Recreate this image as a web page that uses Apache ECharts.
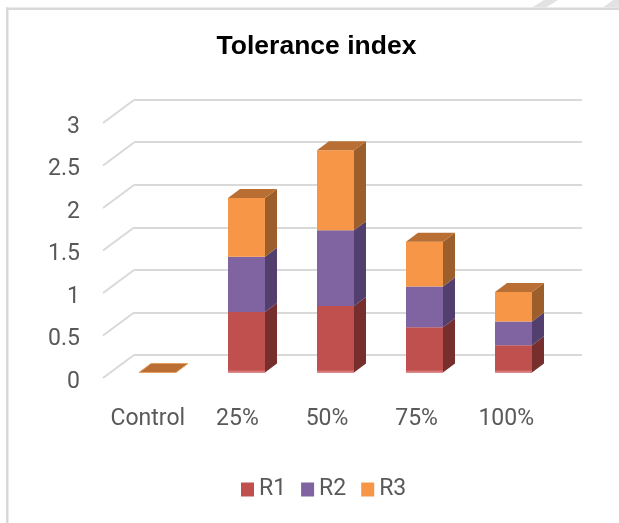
<!DOCTYPE html>
<html><head><meta charset="utf-8">
<style>html,body{margin:0;padding:0;background:#fff}#c{width:619px;height:523px}</style>
<script src="https://cdn.jsdelivr.net/npm/echarts@6/dist/echarts.min.js"></script>
</head><body><div id="c"></div>
<script>
const categories = ['Control','25%','50%','75%','100%'];
const tickLabels = [0,0.5,1,1.5,2,2.5,3];
const R1 = [0,0.71,0.78,0.53,0.32];
const R2 = [0,0.65,0.89,0.48,0.28];
const R3 = [0,0.69,0.94,0.525,0.345];
const names = ['R1','R2','R3'];
const seriesValues = [R1,R2,R3];
const colors = ['#c0504d','#8064a2','#f79646'];
const sideColors = ['#772f2d','#523f6e','#9c5f2b'];
const topColors = ['#8f3e3c','#65507f','#b96f33'];
const depthX = 12, depthY = 9, wallX = 31, wallY = 23, labelShift = 4;

function barItem(idx){
  return function(params, api){
    const c = api.value(0), lo = api.value(1), hi = api.value(2);
    const pLo = api.coord([c, lo]), pHi = api.coord([c, hi]);
    const w = api.size([1,0])[0] * 37/89;
    const x0 = pLo[0]-w/2, x1 = pLo[0]+w/2, yb = pLo[1], yt = pHi[1];
    const children = [];
    const isTop = idx === 2;
    if (yb - yt > 0.01) {
      children.push({type:'polygon',shape:{points:[[x1,yb],[x1+depthX,yb-depthY],[x1+depthX,yt-depthY],[x1,yt]]},style:{fill:sideColors[idx]}});
      children.push({type:'rect',shape:{x:x0,y:yt,width:w,height:yb-yt},style:{fill:colors[idx]}});
      if (idx === 0) children.push({type:'rect',shape:{x:x0,y:yb-2,width:w,height:2},style:{fill:'#d57575'}});
    }
    if (isTop) {
      children.push({type:'polygon',shape:{points:[[x0,yt],[x0+depthX,yt-depthY],[x1+depthX,yt-depthY],[x1,yt]]},
        style:{fill:topColors[idx],stroke:yb-yt>0.01?topColors[idx]:'#e8a060',lineWidth:yb-yt>0.01?0:1}});
    }
    return {type:'group',children};
  };
}
const barSeries = names.map((n,i)=>{
  const data = categories.map((_,k)=>{
    let lo=0; for(let j=0;j<i;j++) lo+=seriesValues[j][k];
    return [k, lo, lo+seriesValues[i][k]];
  });
  return {name:n,type:'custom',xAxisIndex:2,yAxisIndex:2,z:5,
    itemStyle:{color:colors[i]},encode:{x:0,y:[1,2]},
    renderItem:barItem(i),data};
});
const depthLines = {type:'custom',xAxisIndex:0,yAxisIndex:0,z:2,silent:true,
  encode:{y:0},
  renderItem(params,api){
    const p = api.coord([0, api.value(0)]);
    const x = params.coordSys.x;
    const y = p[1]-labelShift;
    return {type:'line',shape:{x1:x,y1:y,x2:x+wallX,y2:y-wallY},style:{stroke:'#d9d9d9',lineWidth:2}};
  },
  data:tickLabels.map(v=>[v])
};
const chart = echarts.init(document.getElementById('c'),null,{renderer:'canvas'});
const font = 'Roboto';
chart.setOption({
  animation:false,
  backgroundColor:'#fff',
  title:{text:'Tolerance index',left:311.5,top:28,textAlign:'center',
    textStyle:{fontFamily:'Liberation Sans',fontSize:26.5,fontWeight:'bold',color:'#000'}},
  legend:{data:names,left:236,top:473,itemWidth:13,itemHeight:14,itemGap:15,icon:'rect',
    textStyle:{fontFamily:font,fontSize:23,color:'#595959',padding:[0,0,0,0]}},
  grid:[
    {left:103,top:123+labelShift,width:448,height:255},
    {left:134,top:99.5,width:448,height:255.5},
    {left:113,top:117,width:445,height:255.5}
  ],
  xAxis:[
    {gridIndex:0,type:'category',data:categories,axisLine:{show:false},axisTick:{show:false},
      axisLabel:{fontFamily:font,fontSize:23,color:'#595959',margin:26,interval:0,hideOverlap:false}},
    {gridIndex:1,type:'category',data:categories,axisLine:{show:false},axisTick:{show:false},axisLabel:{show:false}},
    {gridIndex:2,type:'category',data:categories,axisLine:{show:false},axisTick:{show:false},axisLabel:{show:false}}
  ],
  yAxis:[0,1,2].map(i=>({gridIndex:i,type:'value',min:0,max:3,interval:0.5,
    axisLine:{show:false},axisTick:{show:false},
    splitLine:{show:i===1,lineStyle:{color:'#d9d9d9',width:2}},
    axisLabel:i===0?{fontFamily:font,fontSize:23,color:'#595959',margin:23}:{show:false}})),
  graphic:[
    {type:'rect',shape:{x:6,y:7.5,width:613,height:2.5},style:{fill:'#d9d9d9'},silent:true},
    {type:'rect',shape:{x:6,y:7.5,width:2.5,height:516},style:{fill:'#d9d9d9'},silent:true},
    {type:'polygon',shape:{points:[[544,0],[558,0],[546,7.5],[532,7.5]]},style:{fill:'#e2e2e2'},silent:true},
    {type:'polygon',shape:{points:[[613,0],[619,0],[619,7.5],[603,7.5]]},style:{fill:'#e2e2e2'},silent:true}
  ],
  series:[depthLines,...barSeries]
});
</script></body></html>
